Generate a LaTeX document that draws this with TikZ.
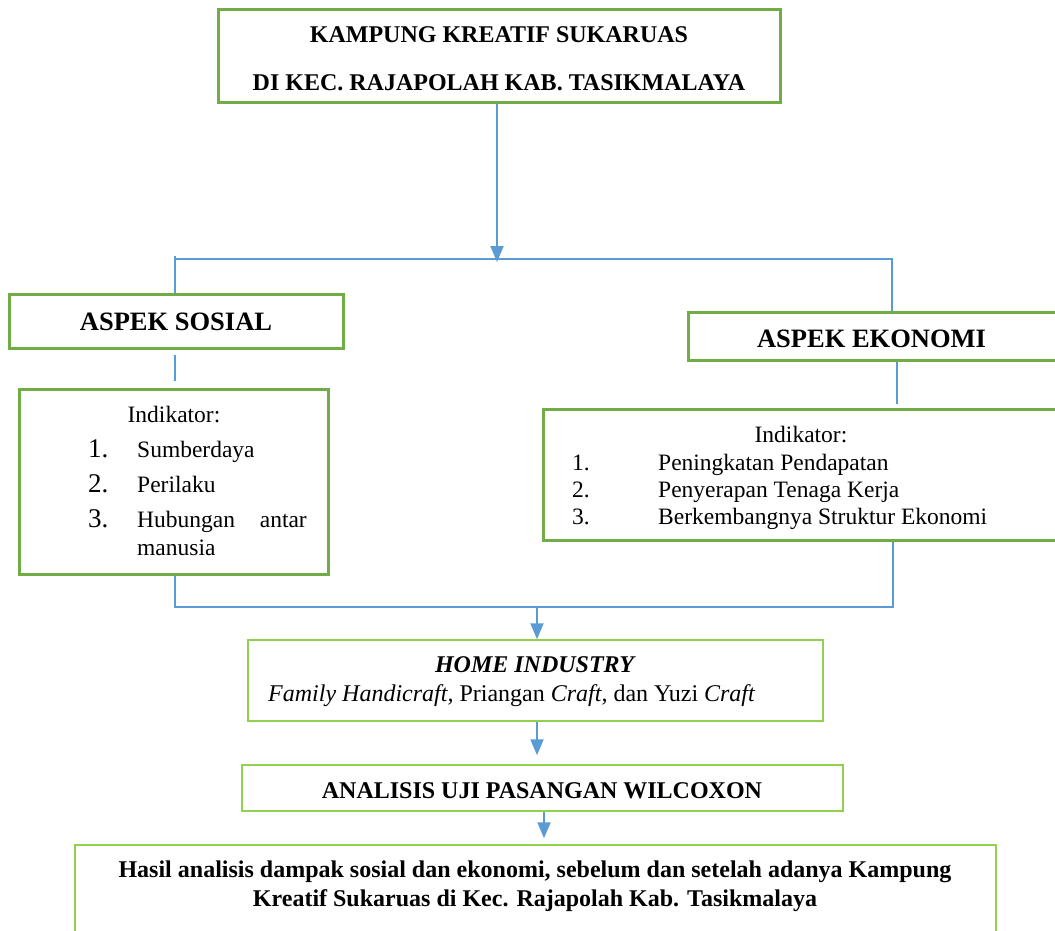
\documentclass[tikz,border=0pt]{standalone}
\usepackage{fontspec}
\setmainfont{Liberation Serif}
\usetikzlibrary{arrows.meta}
\definecolor{gdark}{HTML}{70AD47}
\definecolor{glight}{HTML}{92D050}
\definecolor{lblue}{HTML}{5B9BD5}
\begin{document}
\begin{tikzpicture}[x=1pt,y=-1pt,
  boxA/.style={draw=gdark, line width=3pt, inner sep=0pt, fill=white},
  boxB/.style={draw=glight, line width=1.5pt, inner sep=0pt, fill=white},
  conn/.style={draw=lblue, line width=1.2pt},
  arr/.style={draw=lblue, line width=2pt, -{Triangle[width=13pt,length=16pt]}, color=lblue},
  txt/.style={inner sep=0pt, font=\fontsize{23.5}{28}\selectfont},
  hd/.style={inner sep=0pt, font=\fontsize{24}{28}\selectfont\bfseries},
  big/.style={inner sep=0pt, font=\fontsize{26.5}{30}\selectfont\bfseries},
  num/.style={inner sep=0pt, font=\fontsize{27}{30}\selectfont}]
\useasboundingbox (0,0) rectangle (1055,931);
\clip (0,0) rectangle (1055,931);
% boxes
\node[boxA, minimum width=562pt, minimum height=93pt] (top) at (499,56.5) {};
\node[boxA, minimum width=334pt, minimum height=54pt] (sos) at (176,321) {};
\node[boxA, minimum width=309pt, minimum height=185pt] (sosind) at (173.5,481.5) {};
\node[boxA, minimum width=369pt, minimum height=48pt] (eko) at (872.5,336) {};
\node[boxA, minimum width=514pt, minimum height=131pt] (ekoind) at (800,474.5) {};
\node[boxB, minimum width=575pt, minimum height=81pt] (home) at (535.5,680.5) {};
\node[boxB, minimum width=601pt, minimum height=46pt] (anal) at (542.5,788) {};
\node[boxB, minimum width=921pt, minimum height=95pt] (hasil) at (535.5,892.5) {};
% texts
\node[hd, anchor=base] (t1) at (499,43) {KAMPUNG KREATIF SUKARUAS};
\node[hd, anchor=base] (t2) at (499,91) {DI KEC. RAJAPOLAH KAB. TASIKMALAYA};
\node[big, anchor=base] (ts) at (176,330) {ASPEK SOSIAL};
\node[big, anchor=base] (te) at (871.5,347) {ASPEK EKONOMI};
% social indicators
\node[txt, anchor=base] (si0) at (174,422) {Indikator:};
\node[num, anchor=base west] (sn1) at (88,457) {1.};
\node[txt, anchor=base west] (si1) at (137,457) {Sumberdaya};
\node[num, anchor=base west] (sn2) at (88,492) {2.};
\node[txt, anchor=base west] (si2) at (137,492) {Perilaku};
\node[num, anchor=base west] (sn3) at (88,527) {3.};
\node[txt, anchor=base west] (si3a) at (137,527) {Hubungan};
\node[txt, anchor=base east] (si3b) at (307,527) {antar};
\node[txt, anchor=base west] (si3c) at (137,555) {manusia};
% economic indicators
\node[txt, anchor=base] (ei0) at (801,442) {Indikator:};
\node[txt, anchor=base west] (en1) at (572,470) {1.};
\node[txt, anchor=base west] (ei1) at (658,470) {Peningkatan Pendapatan};
\node[txt, anchor=base west] (en2) at (572,497) {2.};
\node[txt, anchor=base west] (ei2) at (658,497) {Penyerapan Tenaga Kerja};
\node[txt, anchor=base west] (en3) at (572,524) {3.};
\node[txt, anchor=base west] (ei3) at (658,524) {Berkembangnya Struktur Ekonomi};
% home industry
\node[hd, anchor=base] (th1) at (534.5,672) {\itshape HOME INDUSTRY};
\node[txt, anchor=base west] (th2) at (268,701) {\fontsize{24}{28}\selectfont\textit{Family Handicraft,} Priangan \textit{Craft,} dan Yuzi \textit{Craft}};
\node[hd, anchor=base] (ta) at (542,798) {ANALISIS UJI PASANGAN WILCOXON};
\node[hd, anchor=base] (tr1) at (535,877) {Hasil analisis dampak sosial dan ekonomi, sebelum dan setelah adanya Kampung};
\node[hd, anchor=base] (tr2) at (535,906) {Kreatif Sukaruas di Kec. Rajapolah Kab. Tasikmalaya};
% connectors
\coordinate (jt) at (497,262);
\coordinate (hl) at (175,259);
\coordinate (hr) at (892,259);
\coordinate (bl) at (175,607);
\coordinate (br) at (893,607);
\coordinate (hm) at (537,607);
\coordinate (ev) at (897,0);
\draw[arr] (top.south -| jt) -- (jt);
\draw[conn] (sos.north -| hl) -- ([yshift=3pt]hl) -- (hl) -- (hr) -- (hr |- eko.north);
\draw[conn] ([yshift=-5pt]sos.south -| hl) -- ([yshift=7pt]sosind.north -| hl);
\draw[conn] (eko.south -| ev) -- ([yshift=4pt]ekoind.north -| ev);
\draw[conn] (sosind.south -| bl) -- (bl) -- (br) -- (ekoind.south -| br);
\draw[arr] (hm) -- (hm |- home.north);
\draw[arr, shorten >=9pt] (home.south -| hm) -- (anal.north -| hm);
\draw[arr, shorten >=6pt] ([xshift=7pt]anal.south -| hm) -- ([xshift=7pt]hasil.north -| hm);
\end{tikzpicture}
\end{document}
